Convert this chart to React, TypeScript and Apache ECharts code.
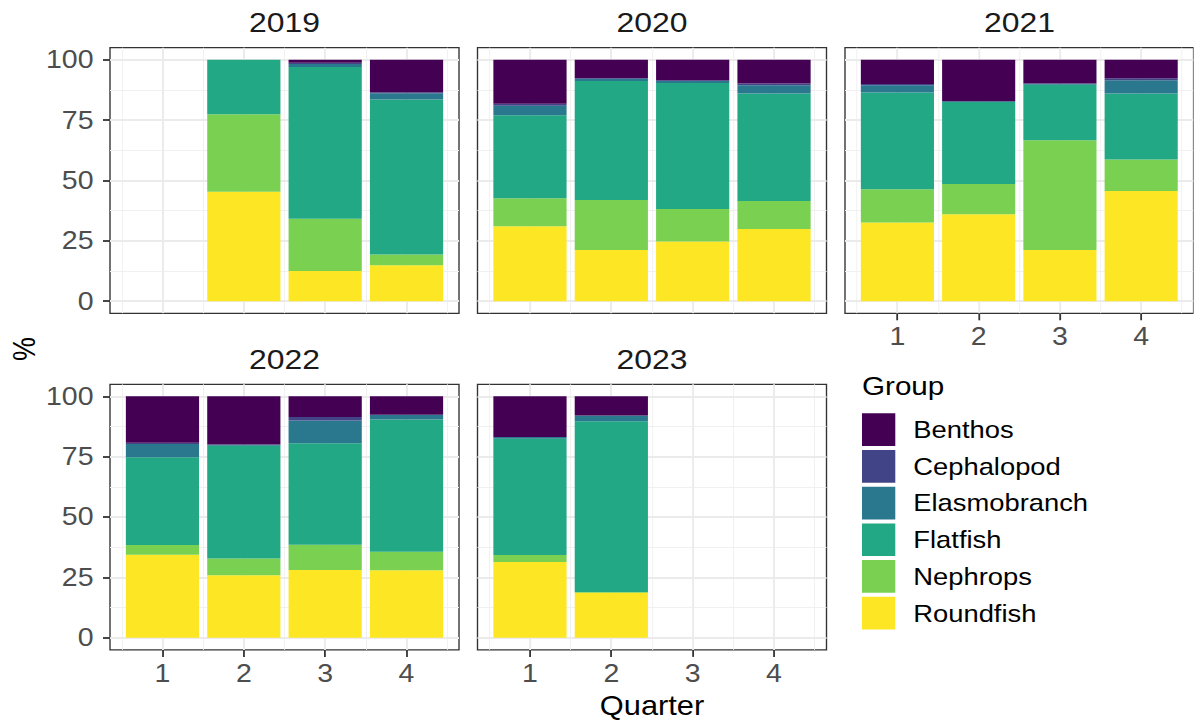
import React, { useEffect, useRef } from 'react';
import * as echarts from 'echarts';

// ---- data -------------------------------------------------------------
const years = ['2019', '2020', '2021', '2022', '2023'];
const quarters = [1, 2, 3, 4];
const yTicks = [0, 25, 50, 75, 100];
const yMinorTicks = [12.5, 37.5, 62.5, 87.5];
const xMinorTicks = [0.5, 1.5, 2.5, 3.5, 4.5];

// Share of catch (%) per year (rows) and quarter (columns); null = no samples
const roundfish = [
  [null, 45.3, 12.5, 14.9],
  [31.1, 21.2, 24.7, 29.9],
  [32.6, 36.0, 21.2, 45.6],
  [34.4, 25.9, 28.1, 28.0],
  [31.4, 18.7, null, null],
];
const nephrops = [
  [null, 32.1, 21.7, 4.5],
  [11.5, 20.7, 13.5, 11.6],
  [13.8, 12.5, 45.5, 13.1],
  [4.0, 7.0, 10.5, 7.7],
  [2.9, 0.3, null, null],
];
const flatfish = [
  [null, 22.6, 62.8, 64.1],
  [34.4, 49.3, 52.2, 44.5],
  [40.0, 34.0, 23.0, 27.3],
  [36.4, 46.7, 42.0, 54.7],
  [48.1, 70.7, null, null],
];
const elasmobranch = [
  [null, 0, 1.2, 2.6],
  [4.0, 0.9, 0.8, 3.4],
  [3.0, 0.3, 0.5, 5.5],
  [5.5, 0.5, 9.4, 2.0],
  [0.8, 2.4, null, null],
];
const cephalopod = [
  [null, 0, 0.6, 0.5],
  [0.8, 0.4, 0.3, 0.8],
  [0.6, 0, 0, 0.8],
  [0.5, 0, 1.5, 0],
  [0, 0, null, null],
];
const benthos = [
  [null, 0, 1.2, 13.4],
  [18.2, 7.5, 8.5, 9.8],
  [10.0, 17.2, 9.8, 7.7],
  [19.2, 19.9, 8.5, 7.6],
  [16.8, 7.9, null, null],
];

// legend order (top to bottom); stacks are built in the reverse order
const groups = [
  { name: 'Benthos', color: '#440154', values: benthos },
  { name: 'Cephalopod', color: '#414487', values: cephalopod },
  { name: 'Elasmobranch', color: '#2A788E', values: elasmobranch },
  { name: 'Flatfish', color: '#22A884', values: flatfish },
  { name: 'Nephrops', color: '#7AD151', values: nephrops },
  { name: 'Roundfish', color: '#FDE725', values: roundfish },
];

// ---- layout -----------------------------------------------------------
const SX = 1.14; // horizontal stretch of the whole figure
const PAGE_W = 1194;
const PAGE_H = 722;
const CW = PAGE_W / SX;
const colLeft = [110, 477.5, 845];
const rowTop = [47.7, 384.3];
const PW = 349;
const PH = 265.6;
const panelCells = [
  [0, 0],
  [0, 1],
  [0, 2],
  [1, 0],
  [1, 1],
];
const showXAxis = [false, false, true, true, true];
const showYAxis = [true, false, false, true, false];
const BAR_HALF = 0.45;
const FONT = '"Liberation Sans", Arial, sans-serif';

const renderBar = (params: any, api: any) => {
  const q = api.value(0);
  const lo = api.value(1);
  const hi = api.value(2);
  const tl = api.coord([q - BAR_HALF, hi]);
  const br = api.coord([q + BAR_HALF, lo]);
  return {
    type: 'rect',
    shape: { x: tl[0], y: tl[1], width: br[0] - tl[0], height: br[1] - tl[1] },
    style: { fill: api.visual('color') },
  };
};

function buildOption() {
  const grid: any[] = [];
  const xAxis: any[] = [];
  const yAxis: any[] = [];
  const series: any[] = [];
  const graphic: any[] = [];

  const majorV = { color: '#EBEBEB', width: 1.9 / SX, type: 'solid' };
  const minorV = { color: '#F0F0F0', width: 1.0 / SX, type: 'solid' };
  const majorH = { color: '#EBEBEB', width: 1.9, type: 'solid' };
  const minorH = { color: '#F0F0F0', width: 1.0, type: 'solid' };

  years.forEach((year, i) => {
    const [r, c] = panelCells[i];
    grid.push({
      left: colLeft[c] / SX,
      top: rowTop[r],
      width: PW / SX,
      height: PH,
      show: true,
      borderColor: '#333333',
      borderWidth: 1.2,
      backgroundColor: 'transparent',
    });
    xAxis.push({
      gridIndex: i,
      type: 'value',
      min: 0.355,
      max: 4.645,
      splitLine: { show: false },
      axisLine: { show: false, onZero: false },
      axisTick: {
        show: showXAxis[i],
        customValues: quarters,
        length: 7,
        lineStyle: { color: '#333333', width: 1.8 / SX },
      },
      axisLabel: {
        show: showXAxis[i],
        customValues: quarters,
        margin: 11,
        fontSize: 25,
        fontFamily: FONT,
        color: '#4D4D4D',
      },
    });
    yAxis.push({
      gridIndex: i,
      type: 'value',
      min: -5,
      max: 105,
      splitLine: { show: false },
      axisLine: { show: false, onZero: false },
      axisTick: {
        show: showYAxis[i],
        customValues: yTicks,
        length: 7 / SX,
        lineStyle: { color: '#333333', width: 1.8 },
      },
      axisLabel: {
        show: showYAxis[i],
        customValues: yTicks,
        margin: 16.5 / SX,
        fontSize: 25,
        fontFamily: FONT,
        color: '#4D4D4D',
      },
    });

    // panel grid lines
    series.push({
      type: 'line',
      name: 'gridlines-' + year,
      xAxisIndex: i,
      yAxisIndex: i,
      data: [],
      silent: true,
      z: 1,
      markLine: {
        silent: true,
        z: 1,
        symbol: ['none', 'none'],
        label: { show: false },
        emphasis: { disabled: true },
        data: [
          ...xMinorTicks.map((v) => ({ xAxis: v, lineStyle: minorV })),
          ...yMinorTicks.map((v) => ({ yAxis: v, lineStyle: minorH })),
          ...quarters.map((v) => ({ xAxis: v, lineStyle: majorV })),
          ...yTicks.map((v) => ({ yAxis: v, lineStyle: majorH })),
        ],
      },
    });

    // stacked bars, Roundfish at the bottom
    const base = quarters.map(() => 0);
    [...groups].reverse().forEach((g) => {
      const data: number[][] = [];
      quarters.forEach((q, k) => {
        const v = g.values[i][k];
        if (v == null) return;
        data.push([q, base[k], base[k] + v]);
        base[k] += v;
      });
      series.push({
        type: 'custom',
        name: g.name,
        xAxisIndex: i,
        yAxisIndex: i,
        renderItem: renderBar,
        encode: { x: 0, y: [1, 2] },
        itemStyle: { color: g.color },
        data,
        silent: true,
        z: 3,
      });
    });

    // facet strip label
    graphic.push({
      type: 'text',
      x: (colLeft[c] + PW / 2) / SX,
      y: rowTop[r] - 25.2,
      style: {
        text: year,
        fontSize: 28,
        fontFamily: FONT,
        fill: '#1A1A1A',
        align: 'center',
        verticalAlign: 'middle',
      },
    });
  });

  graphic.push(
    {
      type: 'text',
      x: 24 / SX,
      y: 349,
      rotation: Math.PI / 2,
      style: {
        text: '%',
        fontSize: 27,
        fontFamily: FONT,
        fill: '#000000',
        align: 'center',
        verticalAlign: 'middle',
      },
    },
    {
      type: 'text',
      x: 652 / SX,
      y: 706,
      style: {
        text: 'Quarter',
        fontSize: 27,
        fontFamily: FONT,
        fill: '#000000',
        align: 'center',
        verticalAlign: 'middle',
      },
    },
    {
      type: 'text',
      x: 862 / SX,
      y: 386,
      style: {
        text: 'Group',
        fontSize: 26,
        fontFamily: FONT,
        fill: '#000000',
        align: 'left',
        verticalAlign: 'middle',
      },
    }
  );

  return {
    animation: false,
    backgroundColor: '#FFFFFF',
    grid,
    xAxis,
    yAxis,
    series,
    graphic,
    legend: {
      data: groups.map((g) => g.name),
      orient: 'vertical',
      left: 862 / SX,
      top: 413.3,
      padding: 0,
      icon: 'rect',
      itemWidth: 33.3 / SX,
      itemHeight: 32.7,
      itemGap: 4,
      selectedMode: false,
      textStyle: {
        fontSize: 24,
        fontFamily: FONT,
        color: '#000000',
        padding: [0, 0, 0, 18 / SX - 5],
      },
    },
  };
}

export default function App() {
  const ref = useRef<HTMLDivElement>(null);
  useEffect(() => {
    if (!ref.current) return;
    const chart = echarts.init(ref.current, null, { renderer: 'svg' });
    chart.setOption(buildOption() as any);
    return () => chart.dispose();
  }, []);
  return (
    <div
      ref={ref}
      style={{
        position: 'absolute',
        left: 0,
        top: 0,
        width: CW,
        height: PAGE_H,
        transform: `scaleX(${SX})`,
        transformOrigin: '0 0',
      }}
    />
  );
}
